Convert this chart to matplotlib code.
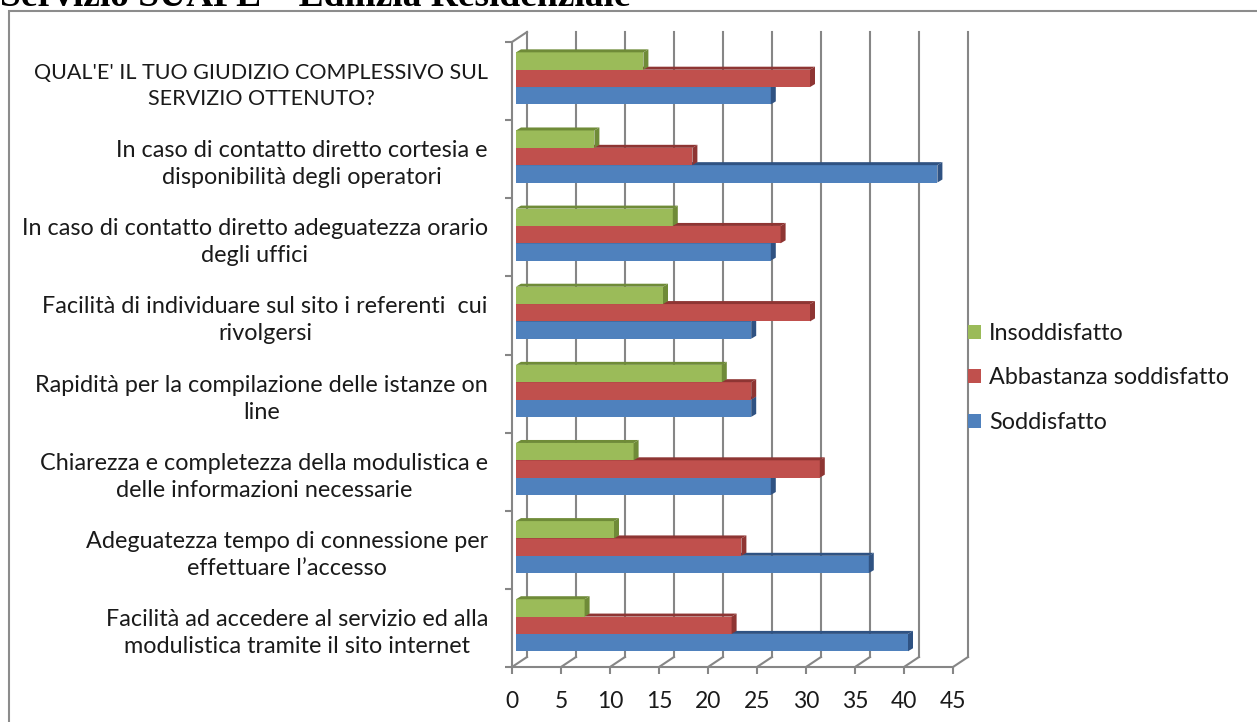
"""Customer satisfaction survey - SUAPE residential building service (3D-style bar chart)."""

import matplotlib.pyplot as plt
from matplotlib.patches import Polygon, Rectangle
from matplotlib.transforms import ScaledTranslation

plt.rcParams["font.family"] = ["Lato", "DejaVu Sans"]

# Questions, listed top to bottom as they appear in the chart.
questions = [
    "QUAL'E' IL TUO GIUDIZIO COMPLESSIVO SUL\nSERVIZIO OTTENUTO?",
    "In caso di contatto diretto cortesia e\ndisponibilità degli operatori",
    "In caso di contatto diretto adeguatezza orario\ndegli uffici",
    "Facilità di individuare sul sito i referenti  cui\nrivolgersi",
    "Rapidità per la compilazione delle istanze on\nline",
    "Chiarezza e completezza della modulistica e\ndelle informazioni necessarie",
    "Adeguatezza tempo di connessione per\neffettuare l\u2019accesso",
    "Facilità ad accedere al servizio ed alla\nmodulistica tramite il sito internet",
]
soddisfatto = [26, 43, 26, 24, 24, 26, 36, 40]
abbastanza = [30, 18, 27, 30, 24, 31, 23, 22]
insoddisfatto = [13, 8, 16, 15, 21, 12, 10, 7]

x_ticks = list(range(0, 50, 5))

W, H = 1257, 722
fig = plt.figure(figsize=(W / 100, H / 100), dpi=100)
ax = fig.add_axes([512 / W, 55 / H, 441 / W, 625 / H])
ax.set_xlim(0, 45)
ax.set_ylim(0, 8)
ax.patch.set_visible(False)

grid = "#868686"
n = len(questions)
px_x = 45 / 441   # data units per pixel
px_y = 8 / 625


def shift(dx, dy):
    return ax.transData + ScaledTranslation(dx / 100, dy / 100, fig.dpi_scale_trans)


wall_tr = shift(15, 10)
bar_tr = shift(4, 2.7)

# back wall gridlines and floor diagonals
for v in x_ticks:
    ax.plot([v, v], [0, n], color=grid, lw=1.5, transform=wall_tr, clip_on=False, zorder=0.5)
    ax.plot([v, v + 15 * px_x], [0, 10 * px_y], color=grid, lw=1.5, clip_on=False, zorder=0.5)
ax.plot([0, 15 * px_x], [n, n + 10 * px_y], color=grid, lw=1.5, clip_on=False, zorder=0.5)

for side in ["top", "right"]:
    ax.spines[side].set_visible(False)
for side in ["left", "bottom"]:
    ax.spines[side].set_color(grid)
    ax.spines[side].set_linewidth(1.5)

# bars: blue at the bottom of each group, green on top
bh = 0.222
ddx, ddy = 5 * px_x, 3 * px_y
series = [
    ("Soddisfatto", soddisfatto, "#4F81BD", "#2F5282", -1),
    ("Abbastanza soddisfatto", abbastanza, "#C0504D", "#8E3533", 0),
    ("Insoddisfatto", insoddisfatto, "#9BBB59", "#6F8B38", 1),
]
handles = {}
for name, vals, col, dark, k in series:
    ys = [n - 0.5 - j + k * bh for j in range(n)]
    bars = ax.barh(ys, vals, height=bh, color=col, transform=bar_tr, clip_on=False,
                   zorder=2, label=name)
    handles[name] = bars
    for y, v in zip(ys, vals):
        yb, yt = y - bh / 2, y + bh / 2
        top = Polygon([(0, yt), (v, yt), (v + ddx, yt + ddy), (ddx, yt + ddy)],
                      closed=True, fc=dark, ec="none", transform=bar_tr, clip_on=False, zorder=2)
        side = Polygon([(v, yb), (v, yt), (v + ddx, yt + ddy), (v + ddx, yb + ddy)],
                       closed=True, fc=dark, ec="none", transform=bar_tr, clip_on=False, zorder=2)
        ax.add_patch(top)
        ax.add_patch(side)

ax.set_xlim(0, 45)
ax.set_ylim(0, 8)

ax.set_xticks(x_ticks)
ax.tick_params(axis="x", length=5, width=1.5, color=grid, pad=12.5, labelsize=16.5,
               labelcolor="#1a1a1a")
ax.set_yticks(range(n + 1))
ax.set_yticklabels([])
ax.tick_params(axis="y", which="major", length=5, width=1.5, color=grid)
ax.set_yticks([n - 0.5 - j for j in range(n)], minor=True)
ax.set_yticklabels(questions, minor=True)
ax.tick_params(axis="y", which="minor", length=0, pad=17.3, labelsize=16.8,
               labelcolor="#1a1a1a")
for t in ax.get_yticklabels(minor=True):
    t.set_multialignment("center")
    t.set_linespacing(1.35)
# the all-caps question is wider in Lato than in the original font
ax.get_yticklabels(minor=True)[0].set_fontsize(15.5)

order = ["Insoddisfatto", "Abbastanza soddisfatto", "Soddisfatto"]
fig.legend([handles[o] for o in order], order, loc="center left",
           bbox_to_anchor=(968 / W, 1 - 378 / H), frameon=False, fontsize=16.8,
           handlelength=0.55, handleheight=0.55, handletextpad=0.35, labelspacing=1.0,
           borderpad=0, borderaxespad=0, labelcolor="#1a1a1a")

# chart area border (runs off the right and bottom edges)
fig.add_artist(Rectangle((9 / W, -0.05), 1.2, (H - 11) / H + 0.05, transform=fig.transFigure,
                         fill=False, ec="#8c8c8c", lw=1.5))

fig.text(0, 1 - 6 / H, "Servizio SUAPE \u2013 Edilizia Residenziale", fontfamily="Liberation Serif",
         fontweight="bold", fontsize=27, va="baseline", ha="left")

fig.savefig("out.png", dpi=100)
